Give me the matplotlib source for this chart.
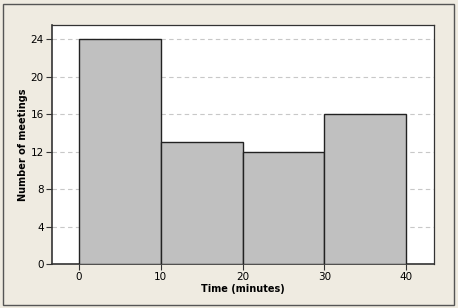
import matplotlib.pyplot as plt
from matplotlib.patches import Rectangle

bin_edges = [0, 10, 20, 30, 40]
counts = [24, 13, 12, 16]
y_ticks = [0, 4, 8, 12, 16, 20, 24]
x_ticks = [0, 10, 20, 30, 40]

W, H = 458, 308
fig = plt.figure(figsize=(W / 100, H / 100), dpi=100)
fig.patch.set_facecolor('#EFEBE1')
fig.patches.append(Rectangle((3 / W, 1 - 305 / H), 451 / W, 301 / H,
                             transform=fig.transFigure, fill=False,
                             edgecolor='#555555', linewidth=1.0))

ax = fig.add_axes([52 / W, 1 - 264 / H, (434 - 52) / W, (264 - 25) / H])
ax.set_facecolor('white')

widths = [bin_edges[i + 1] - bin_edges[i] for i in range(len(counts))]
ax.bar(bin_edges[:-1], counts, width=widths, align='edge',
       color='#C0C0C0', edgecolor='#222222', linewidth=1.0, zorder=3)

ax.set_xlim(-3.3, 43.4)
ax.set_ylim(0, 25.5)
ax.set_xticks(x_ticks)
ax.set_yticks(y_ticks)
ax.yaxis.grid(True, linestyle=(0, (4, 3)), color='#C8C8C8', linewidth=0.8, zorder=0)
ax.tick_params(labelsize=7.5, length=4, width=0.8, color='#333333', pad=2)

for side in ['top', 'right']:
    ax.spines[side].set_color('#333333')
    ax.spines[side].set_linewidth(0.9)
for side in ['left', 'bottom']:
    ax.spines[side].set_color('#333333')
    ax.spines[side].set_linewidth(1.2)

ax.set_xlabel('Time (minutes)', fontsize=7, fontweight='bold', labelpad=1)
ax.set_ylabel('Number of meetings', fontsize=7, fontweight='bold', labelpad=2)

fig.savefig('out.png', dpi=100, facecolor=fig.get_facecolor())
